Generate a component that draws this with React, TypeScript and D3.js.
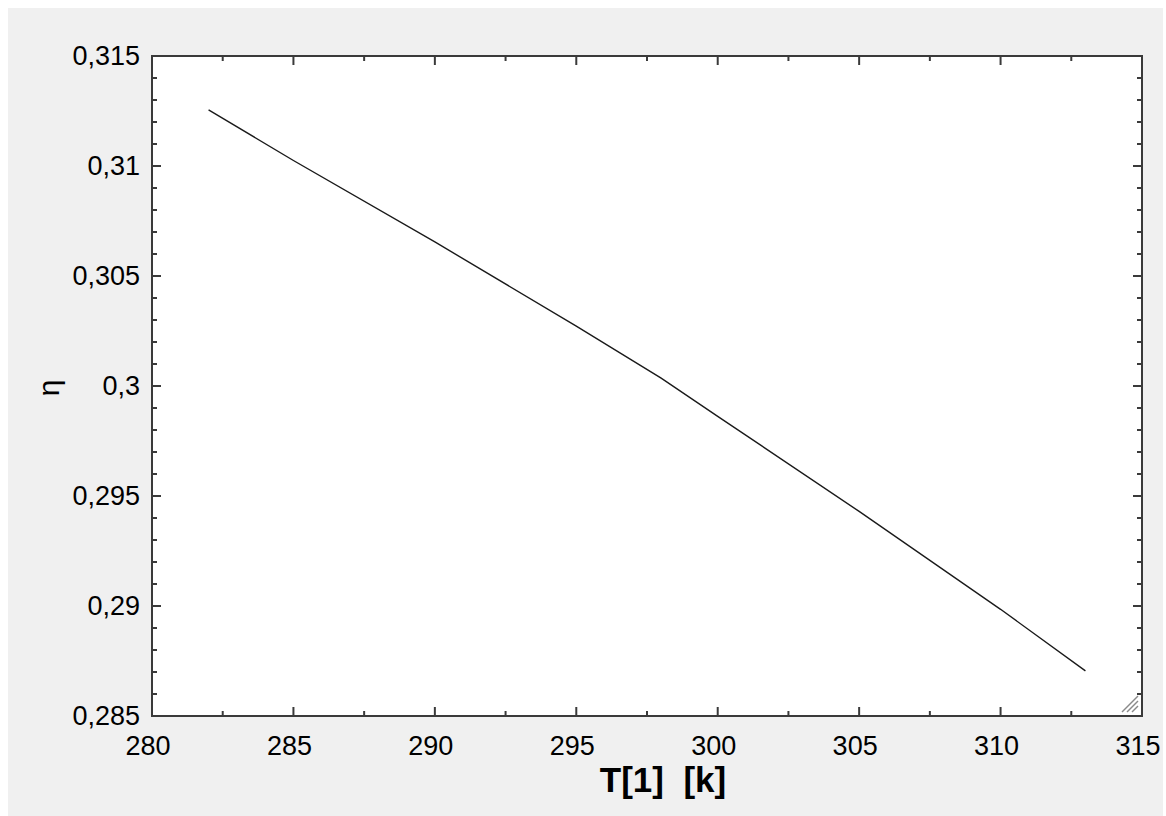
import React from "react";
import * as d3 from "d3";

// Efficiency η against inlet temperature T[1]
const temperatures = [282, 285, 290, 295, 298, 300, 305, 310, 313];
const efficiency = [0.31255, 0.31025, 0.30655, 0.30272, 0.30036, 0.29862, 0.2943, 0.28985, 0.28705];

const xTicks = [280, 285, 290, 295, 300, 305, 310, 315];
const yTicks = [0.285, 0.29, 0.295, 0.3, 0.305, 0.31, 0.315];

const W = 1155;
const H = 808;
const plot = { left: 144, right: 1134, top: 48, bottom: 708 };
const FONT = "'Liberation Sans', Arial, sans-serif";

const fmt = (v: number) => String(+v.toFixed(3)).replace(".", ",");

export default function App() {
  const x = d3.scaleLinear().domain([280, 315]).range([plot.left, plot.right]);
  const y = d3.scaleLinear().domain([0.285, 0.315]).range([plot.bottom, plot.top]);

  const xMinor = d3.range(280, 315.001, 2.5).filter((v) => !xTicks.some((t) => Math.abs(t - v) < 1e-6));
  const yMinor = d3.range(0, 31).map((i) => 0.285 + i * 0.001).filter((v) => !yTicks.some((t) => Math.abs(t - v) < 1e-7));

  const line = d3
    .line<number>()
    .x((_, i) => x(temperatures[i]))
    .y((d) => y(d));

  const tickColor = "#3a3a3a";
  const major = 9;
  const minor = 5;

  return (
    <svg
      width={W}
      height={H}
      style={{ position: "absolute", left: 8, top: 8, display: "block" }}
    >
      <rect x={0} y={0} width={W} height={H} fill="#f0f0f0" />
      <rect
        x={plot.left}
        y={plot.top}
        width={plot.right - plot.left}
        height={plot.bottom - plot.top}
        fill="#ffffff"
      />

      {/* ticks on all four sides, pointing inwards */}
      <g stroke={tickColor} strokeWidth={2}>
        {xTicks.map((t) => (
          <g key={"xt" + t}>
            <line x1={x(t)} x2={x(t)} y1={plot.bottom} y2={plot.bottom - major} />
            <line x1={x(t)} x2={x(t)} y1={plot.top} y2={plot.top + major} />
          </g>
        ))}
        {xMinor.map((t) => (
          <g key={"xm" + t}>
            <line x1={x(t)} x2={x(t)} y1={plot.bottom} y2={plot.bottom - minor} />
            <line x1={x(t)} x2={x(t)} y1={plot.top} y2={plot.top + minor} />
          </g>
        ))}
        {yTicks.map((t) => (
          <g key={"yt" + t}>
            <line x1={plot.left} x2={plot.left + major} y1={y(t)} y2={y(t)} />
            <line x1={plot.right} x2={plot.right - major} y1={y(t)} y2={y(t)} />
          </g>
        ))}
        {yMinor.map((t) => (
          <g key={"ym" + t}>
            <line x1={plot.left} x2={plot.left + minor} y1={y(t)} y2={y(t)} />
            <line x1={plot.right} x2={plot.right - minor} y1={y(t)} y2={y(t)} />
          </g>
        ))}
      </g>

      <rect
        x={plot.left}
        y={plot.top}
        width={plot.right - plot.left}
        height={plot.bottom - plot.top}
        fill="none"
        stroke={tickColor}
        strokeWidth={2}
      />

      {/* resize grip in the lower-right corner */}
      <g stroke="#8a8a8a" strokeWidth={1.5}>
        {[0, 5, 10].map((o) => (
          <line
            key={"g" + o}
            x1={plot.right - 20 + o}
            y1={plot.bottom - 4}
            x2={plot.right - 4}
            y2={plot.bottom - 20 + o}
          />
        ))}
      </g>

      <path d={line(efficiency) ?? ""} fill="none" stroke="#1a1a1a" strokeWidth={1.4} />

      {/* tick labels */}
      <g fontFamily={FONT} fontSize={27} fill="#000">
        {yTicks.map((t) => (
          <text key={"yl" + t} x={plot.left - 12} y={y(t)} textAnchor="end" dominantBaseline="central">
            {fmt(t)}
          </text>
        ))}
        {xTicks.map((t) => (
          <text key={"xl" + t} x={x(t) - 4} y={plot.bottom + 39} textAnchor="middle">
            {fmt(t)}
          </text>
        ))}
      </g>

      <text
        x={655}
        y={784}
        textAnchor="middle"
        fontFamily={FONT}
        fontSize={35}
        fontWeight="bold"
        fill="#000"
        style={{ whiteSpace: "pre" }}
      >
        {"T[1]  [k]"}
      </text>

      <text
        transform={`translate(40, 380) rotate(-90)`}
        textAnchor="middle"
        dominantBaseline="central"
        fontFamily={FONT}
        fontSize={30}
        fill="#000"
      >
        η
      </text>
    </svg>
  );
}
